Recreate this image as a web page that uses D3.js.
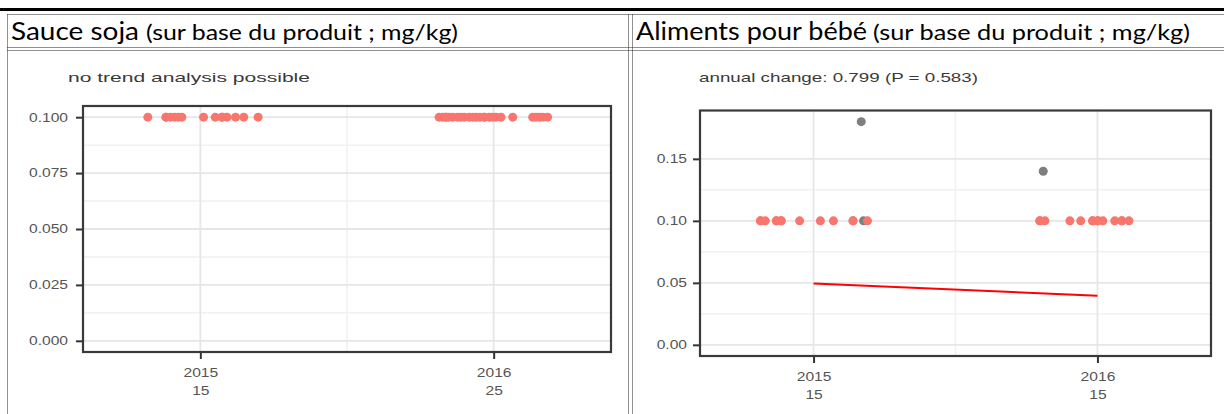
<!DOCTYPE html>
<html>
<head>
<meta charset="utf-8">
<script src="https://cdn.jsdelivr.net/npm/d3@7"></script>
<style>
  body { margin: 0; background: #fff; }
  .tick-label { font-family: "Liberation Sans", Arial, sans-serif; font-size: 12px; }
  .plot-title { font-family: "Liberation Sans", Arial, sans-serif; font-size: 13px; fill: #3a3a3a; }
  .head { font-family: Lato, "Open Sans", sans-serif; fill: #000; }
</style>
</head>
<body>
<div id="chart"></div>
<script>
// years shown on the x axis
const years = [2015, 2016];

// Sauce soja: sampling dates (decimal years), all at 0.100 mg/kg
const sojaDates2015 = [2014.821, 2014.883, 2014.883, 2014.898, 2014.912, 2014.925, 2014.937,
  2015.011, 2015.051, 2015.074, 2015.074, 2015.091, 2015.120, 2015.148, 2015.197];
const sojaDates2016 = [2015.814, 2015.826, 2015.837, 2015.837, 2015.847, 2015.860, 2015.877,
  2015.888, 2015.900, 2015.917, 2015.929, 2015.940, 2015.953, 2015.968, 2015.968, 2015.985,
  2015.997, 2016.008, 2016.025, 2016.065, 2016.133, 2016.144, 2016.156, 2016.168, 2016.184];
const sojaValue = 0.1;

// Aliments pour bébé: red points (at 0.10) and grey points
const bebeRed2015 = [2014.813, 2014.813, 2014.830, 2014.869, 2014.869, 2014.886, 2014.886,
  2014.951, 2015.024, 2015.070, 2015.139, 2015.139, 2015.190];
const bebeRed2016 = [2015.797, 2015.797, 2015.815, 2015.903, 2015.941, 2015.983, 2015.983,
  2016.001, 2016.001, 2016.019, 2016.061, 2016.086, 2016.086, 2016.111];
const bebeRedValue = 0.1;
const bebeGreyDates = [2015.168, 2015.176, 2015.809];
const bebeGreyValues = [0.18, 0.10, 0.14];
const bebeGreyYear = [2015, 2015, 2016];

// fitted trend (red line)
const trendYears = [2015, 2016];
const trendValues = [0.0495, 0.0396];

const sojaTicks = [0, 0.025, 0.05, 0.075, 0.1];
const bebeTicks = [0, 0.05, 0.1, 0.15];

const W = 1224, H = 414;
const STRETCH = 1.3; // the plots are pasted stretched sideways
const red = "#f8766d", grey = "#7f7f7f";

const svg = d3.select("#chart").append("svg")
  .attr("width", W).attr("height", H);

// stretch text horizontally by a factor (or to a fixed width)
function widen(sel, factor, width) {
  sel.each(function () {
    const len = width || this.getComputedTextLength() * factor;
    d3.select(this).attr("textLength", len).attr("lengthAdjust", "spacingAndGlyphs");
  });
}

// Word-table frame
svg.append("line").attr("x1", 0).attr("x2", W).attr("y1", 9.5).attr("y2", 9.5)
  .attr("stroke", "#000").attr("stroke-width", 3);

const dotted = (x1, y1, x2, y2) => svg.append("line")
  .attr("x1", x1).attr("y1", y1).attr("x2", x2).attr("y2", y2)
  .attr("stroke", "#222").attr("stroke-width", 1).attr("stroke-dasharray", "1,1");

dotted(7.5, 14.5, W, 14.5);
dotted(7.5, 47.5, W, 47.5);
dotted(7.5, 50.5, W, 50.5);
dotted(7.5, 14.5, 7.5, H);
dotted(628.5, 14.5, 628.5, H);
dotted(632.5, 14.5, 632.5, H);

function header(x, big, bigW, x2, small, smallW) {
  const a = svg.append("text").attr("class", "head").attr("x", x).attr("y", 40)
    .style("font-size", "25px").text(big);
  widen(a, 1, bigW);
  const b = svg.append("text").attr("class", "head").attr("x", x2).attr("y", 40)
    .style("font-size", "21px").text(small);
  widen(b, 1, smallW);
}
header(11, "Sauce soja", 128, 146, "(sur base du produit ; mg/kg)", 312);
header(636, "Aliments pour bébé", 231, 873, "(sur base du produit ; mg/kg)", 317);

function drawPanel(cfg) {
  const g = svg.append("g");
  const x = d3.scaleLinear().domain([2014.6, 2016.4]).range([cfg.left, cfg.right]);
  const y = d3.scaleLinear().domain(cfg.yDomain).range([cfg.bottom, cfg.top]);

  // minor grid
  const yMinor = d3.range(cfg.ticks.length - 1).map(i => (cfg.ticks[i] + cfg.ticks[i + 1]) / 2);
  g.selectAll(".ym").data(yMinor).enter().append("line")
    .attr("x1", cfg.left).attr("x2", cfg.right)
    .attr("y1", d => y(d)).attr("y2", d => y(d))
    .attr("stroke", "#f1f1f1").attr("stroke-width", 1.5);
  g.append("line").attr("x1", x(2015.5)).attr("x2", x(2015.5))
    .attr("y1", cfg.top).attr("y2", cfg.bottom)
    .attr("stroke", "#f1f1f1").attr("stroke-width", 1.5);

  // major grid
  g.selectAll(".yM").data(cfg.ticks).enter().append("line")
    .attr("x1", cfg.left).attr("x2", cfg.right)
    .attr("y1", d => y(d)).attr("y2", d => y(d))
    .attr("stroke", "#e6e6e6").attr("stroke-width", 1.8);
  g.selectAll(".xM").data(years).enter().append("line")
    .attr("x1", d => x(d)).attr("x2", d => x(d))
    .attr("y1", cfg.top).attr("y2", cfg.bottom)
    .attr("stroke", "#e6e6e6").attr("stroke-width", 1.8);

  // data
  if (cfg.trend) {
    g.append("path")
      .datum(trendYears.map((d, i) => [d, trendValues[i]]))
      .attr("d", d3.line().x(d => x(d[0])).y(d => y(d[1])))
      .attr("fill", "none").attr("stroke", "#ff0000").attr("stroke-width", 2);
  }
  g.selectAll(".pt").data(cfg.points).enter().append("circle")
    .attr("cx", d => x(d.t)).attr("cy", d => y(d.v)).attr("r", 4.5)
    .attr("fill", d => d.c);

  // panel border
  g.append("rect").attr("x", cfg.left).attr("y", cfg.top)
    .attr("width", cfg.right - cfg.left).attr("height", cfg.bottom - cfg.top)
    .attr("fill", "none").attr("stroke", "#3a3a3a").attr("stroke-width", 2.2);

  // axes
  const yAxis = g.append("g").attr("transform", `translate(${cfg.left - 1},0)`)
    .call(d3.axisLeft(y).tickValues(cfg.ticks).tickFormat(d3.format(cfg.fmt))
      .tickSize(6).tickPadding(cfg.yPad));
  yAxis.attr("font-size", null).attr("font-family", null);
  yAxis.select(".domain").remove();
  yAxis.selectAll(".tick line").attr("stroke", "#333").attr("stroke-width", 2);
  yAxis.selectAll(".tick text").attr("class", "tick-label").attr("fill", "#555")
    .call(widen, STRETCH);

  const xAxis = g.append("g").attr("transform", `translate(0,${cfg.bottom + 1})`)
    .call(d3.axisBottom(x).tickValues(years).tickFormat(d3.format("d")).tickSize(6).tickPadding(9));
  xAxis.attr("font-size", null).attr("font-family", null);
  xAxis.select(".domain").remove();
  xAxis.selectAll(".tick line").attr("stroke", "#333").attr("stroke-width", 2);
  xAxis.selectAll(".tick text").attr("class", "tick-label").attr("fill", "#555")
    .each(function (d) {
      const t = d3.select(this);
      t.text(null);
      t.append("tspan").attr("x", 0).text(d);
      t.append("tspan").attr("x", 0).attr("dy", 18).text(cfg.counts[years.indexOf(d)]);
    });
  xAxis.selectAll("tspan").call(widen, STRETCH);

  g.append("text").attr("class", "plot-title").attr("x", cfg.titleX).attr("y", 82)
    .text(cfg.title).call(widen, 1, cfg.titleW);
}

const sojaPoints = sojaDates2015.concat(sojaDates2016).map(t => ({ t: t, v: sojaValue, c: red }));
drawPanel({
  left: 83, right: 611, top: 106, bottom: 352,
  yDomain: [-0.005, 0.105], ticks: sojaTicks, fmt: ".3f", yPad: 8,
  points: sojaPoints,
  counts: [sojaDates2015.length, sojaDates2016.length],
  title: "no trend analysis possible", titleX: 68, titleW: 242, trend: false
});

// grey point at 0.10 goes under the red ones
const bebePoints = bebeGreyDates.map((t, i) => ({ t: t, v: bebeGreyValues[i], c: grey }))
  .concat(bebeRed2015.concat(bebeRed2016).map(t => ({ t: t, v: bebeRedValue, c: red })));
const bebeCounts = years.map(yr =>
  (yr === 2015 ? bebeRed2015.length : bebeRed2016.length) + bebeGreyYear.filter(v => v === yr).length);
drawPanel({
  left: 700, right: 1211, top: 110.5, bottom: 356,
  yDomain: [-0.009, 0.189], ticks: bebeTicks, fmt: ".2f", yPad: 6,
  points: bebePoints,
  counts: bebeCounts,
  title: "annual change: 0.799 (P = 0.583)", titleX: 699, titleW: 279, trend: true
});
</script>
</body>
</html>
